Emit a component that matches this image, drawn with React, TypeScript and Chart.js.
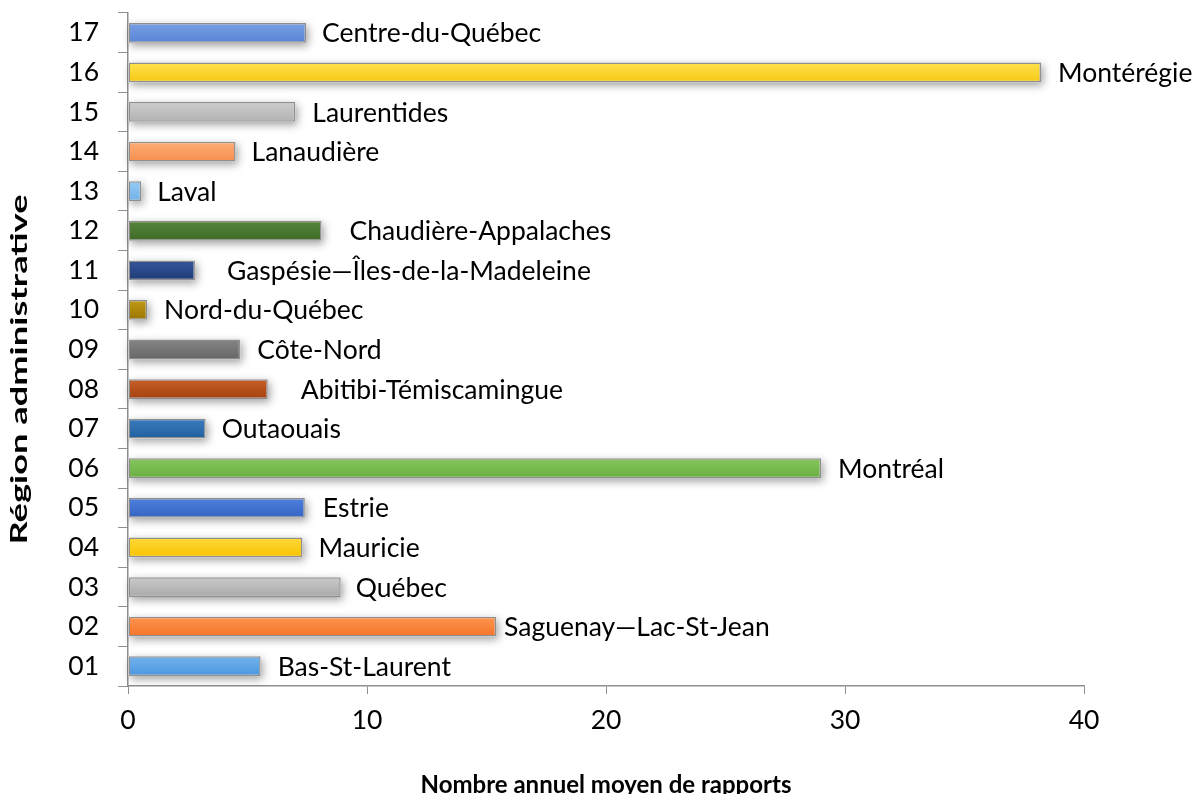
import React, { useEffect, useRef } from 'react';
import { Chart, registerables } from 'chart.js';

Chart.register(...registerables);

const codes = ['01', '02', '03', '04', '05', '06', '07', '08', '09', '10', '11', '12', '13', '14', '15', '16', '17'];
const regions = [
  'Bas-St-Laurent',
  'Saguenay—Lac-St-Jean',
  'Québec',
  'Mauricie',
  'Estrie',
  'Montréal',
  'Outaouais',
  'Abitibi-Témiscamingue',
  'Côte-Nord',
  'Nord-du-Québec',
  'Gaspésie—Îles-de-la-Madeleine',
  'Chaudière-Appalaches',
  'Laval',
  'Lanaudière',
  'Laurentides',
  'Montérégie',
  'Centre-du-Québec',
];
const values = [5.55, 15.4, 8.9, 7.3, 7.4, 29.0, 3.25, 5.85, 4.7, 0.8, 2.8, 8.1, 0.55, 4.5, 7.0, 38.2, 7.45];
const xTicks = [0, 10, 20, 30, 40];
const xTitle = 'Nombre annuel moyen de rapports';
const yTitle = 'Région administrative';

const colorTop = ['#72b2ee', '#ff9550', '#cacaca', '#ffd93a', '#4f80dc', '#84c65c', '#3a7bbd', '#c9602a', '#858585', '#c39a18', '#36559a', '#55853a', '#96caf4', '#ffae78', '#cdcdcd', '#ffe24e', '#789fe4'];
const colorBottom = ['#4b96e0', '#f47428', '#a9a9a9', '#f7c200', '#3564c4', '#6aae42', '#21609f', '#a3410e', '#666666', '#9a7600', '#1f3b77', '#3f6a28', '#70b1ea', '#f68e4e', '#b2b2b2', '#f6c814', '#5a85d6'];
const labelGaps = [17, 8, 15, 16, 18, 17, 16, 33, 17, 17, 32, 28, 16, 16, 17, 17, 16];

const FONT = 'Lato, "Open Sans", sans-serif';
const TEXT_SIZE = 26.5;

const shadowPlugin = {
  id: 'barShadow',
  beforeDatasetsDraw(chart: any) {
    const ctx = chart.ctx;
    const meta = chart.getDatasetMeta(0);
    ctx.save();
    ctx.shadowColor = 'rgba(0,0,0,0.38)';
    ctx.shadowBlur = 8;
    ctx.shadowOffsetX = 2;
    ctx.shadowOffsetY = 3;
    ctx.fillStyle = '#ffffff';
    meta.data.forEach((el: any) => {
      const { x, y, base, height } = el.getProps(['x', 'y', 'base', 'height'], true);
      ctx.fillRect(base, y - height / 2, x - base, height);
    });
    ctx.restore();
  },
};

const labelPlugin = {
  id: 'barLabels',
  afterDatasetsDraw(chart: any) {
    const ctx = chart.ctx;
    const meta = chart.getDatasetMeta(0);
    ctx.save();
    ctx.font = `${TEXT_SIZE}px ${FONT}`;
    ctx.fillStyle = '#000000';
    ctx.textAlign = 'left';
    ctx.textBaseline = 'middle';
    meta.data.forEach((el: any, i: number) => {
      const { x, y } = el.getProps(['x', 'y'], true);
      ctx.fillText(regions[i], x + labelGaps[i], y + 1);
    });
    ctx.restore();
  },
};

// vertical axis title, stretched along its length like the original
const yTitlePlugin = {
  id: 'yTitle',
  afterDraw(chart: any) {
    const ctx = chart.ctx;
    const area = chart.chartArea;
    ctx.save();
    ctx.font = `bold 23px ${FONT}`;
    ctx.fillStyle = '#000000';
    ctx.textAlign = 'center';
    ctx.textBaseline = 'middle';
    const w = ctx.measureText(yTitle).width;
    const target = 350;
    const cy = (area.top + area.bottom) / 2 + 20;
    ctx.translate(20, cy);
    ctx.rotate(-Math.PI / 2);
    ctx.scale(target / w, 1);
    ctx.fillText(yTitle, 0, 0);
    ctx.restore();
  },
};

export default function App() {
  const ref = useRef<HTMLCanvasElement | null>(null);

  useEffect(() => {
    if (!ref.current) return;
    const chart = new Chart(ref.current, {
      type: 'bar',
      data: {
        labels: codes,
        datasets: [
          {
            data: values,
            backgroundColor: (c: any) => {
              const ch = c.chart;
              const ys = ch.scales && ch.scales.y;
              const i = c.dataIndex;
              if (!ys || i === undefined) return colorTop[0];
              const yc = ys.getPixelForValue(i);
              const h = (ys.height / codes.length) * 0.5;
              if (!isFinite(yc) || !isFinite(h) || h <= 0) return colorBottom[i];
              const g = ch.ctx.createLinearGradient(0, yc - h / 2, 0, yc + h / 2);
              g.addColorStop(0, colorTop[i]);
              g.addColorStop(1, colorBottom[i]);
              return g;
            },
            borderColor: '#8e8e8e',
            borderWidth: 1.5,
            borderSkipped: false,
            categoryPercentage: 1.0,
            barPercentage: 0.5,
          },
        ],
      },
      options: {
        indexAxis: 'y',
        animation: false,
        responsive: false,
        maintainAspectRatio: false,
        layout: { padding: { top: 13, right: 114, left: 0, bottom: 0 } },
        plugins: {
          legend: { display: false },
          tooltip: { enabled: false },
        },
        scales: {
          x: {
            type: 'linear',
            min: 0,
            max: 40,
            afterBuildTicks: (s: any) => {
              s.ticks = xTicks.map((v) => ({ value: v }));
            },
            afterFit: (s: any) => {
              s.height = 108;
            },
            grid: {
              drawOnChartArea: false,
              drawTicks: true,
              tickLength: 8,
              color: '#8e8e8e',
            },
            border: { color: '#8e8e8e', width: 1.5 },
            ticks: {
              color: '#000000',
              font: { family: FONT, size: TEXT_SIZE },
              padding: 11,
              maxRotation: 0,
            },
            title: {
              display: true,
              text: xTitle,
              color: '#000000',
              font: { family: FONT, size: 24, weight: 'bold', lineHeight: 1.0 },
              padding: { top: 0, bottom: -3 },
            },
          },
          y: {
            type: 'category',
            reverse: true,
            offset: true,
            afterFit: (s: any) => {
              s.width = 128;
              s.paddingTop = 0;
              s.paddingBottom = 0;
            },
            grid: {
              offset: true,
              drawOnChartArea: false,
              drawTicks: true,
              tickLength: 10,
              color: '#8e8e8e',
            },
            border: { color: '#8e8e8e', width: 1.5 },
            ticks: {
              color: '#000000',
              font: { family: FONT, size: TEXT_SIZE },
              padding: 19,
            },
            title: { display: false },
          },
        },
      },
      plugins: [shadowPlugin, labelPlugin, yTitlePlugin],
    });
    return () => chart.destroy();
  }, []);

  return (
    <div style={{ position: 'fixed', left: 0, top: 0, width: 1198, height: 794, background: '#ffffff' }}>
      <canvas ref={ref} width={1198} height={794} style={{ width: 1198, height: 794, display: 'block' }} />
    </div>
  );
}
